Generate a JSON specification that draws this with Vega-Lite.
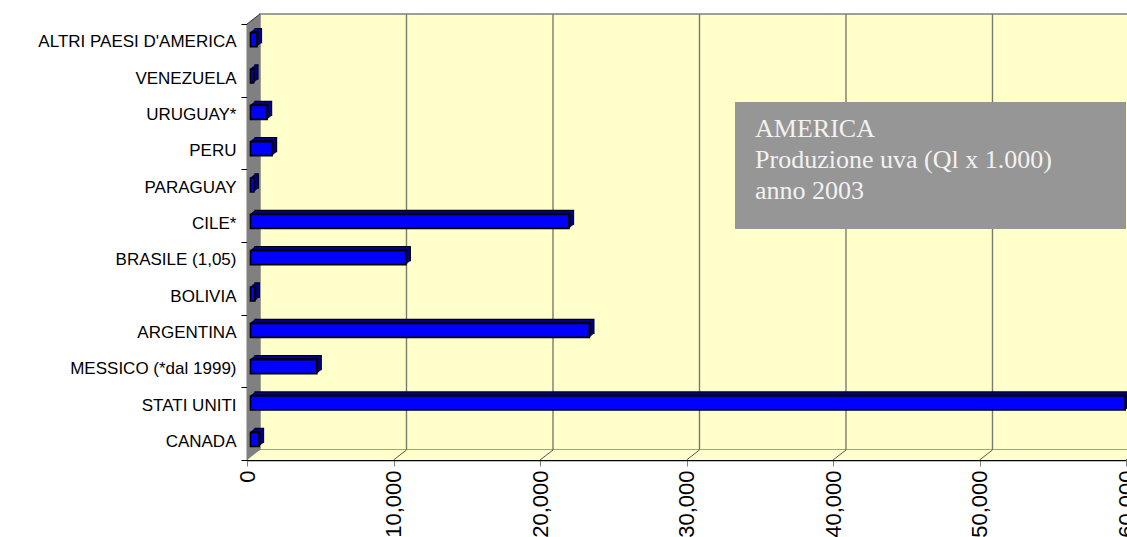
{
"$schema":"https://vega.github.io/schema/vega-lite/v6.json",
"width":879,"height":436,
"autosize":{"type":"none"},
"padding":{"left":247,"top":24,"right":1,"bottom":77},
"background":"#ffffff",
"config":{"view":{"stroke":null},"font":"Liberation Sans"},
"datasets":{
"paesi":[
{"paese":"ALTRI PAESI D'AMERICA","valore":440},
{"paese":"VENEZUELA","valore":200},
{"paese":"URUGUAY*","valore":1130},
{"paese":"PERU","valore":1470},
{"paese":"PARAGUAY","valore":225},
{"paese":"CILE*","valore":21740},
{"paese":"BRASILE (1,05)","valore":10600},
{"paese":"BOLIVIA","valore":295},
{"paese":"ARGENTINA","valore":23130},
{"paese":"MESSICO (*dal 1999)","valore":4520},
{"paese":"STATI UNITI","valore":59700},
{"paese":"CANADA","valore":580}
],
"griglia":[{"v":10000,"w":10887},{"v":20000,"w":20887},{"v":30000,"w":30887},{"v":40000,"w":40887},{"v":50000,"w":50887},{"v":60000,"w":60887}]
},
"layer":[
{"layer":[
{"data":{"values":[{"a":887,"b":61000,"c":10,"d":446}]},"mark":{"type":"rect","fill":"#FFFFCC","stroke":"#808080","strokeWidth":1.5},
 "encoding":{"x":{"field":"a","type":"quantitative","scale":{"domain":[0,60000],"nice":false},"axis":{"values":[0,10000,20000,30000,40000,50000,60000],"format":",d","labelAngle":-90,"labelFontSize":22,"labelColor":"#000000","labelPadding":4,"tickSize":6,"tickColor":"#808080","domainColor":"#000000","domainWidth":1.5,"grid":false,"title":null,"labelOverlap":false,"labelFlush":false,"labelBound":false}},"x2":{"field":"b"},
 "y":{"field":"c","type":"quantitative","scale":{"domain":[0,436],"nice":false},"axis":{"values":[0,36.33,72.67,109,145.33,181.67,218,254.33,290.67,327,363.33,399.67,436],"labels":false,"grid":false,"title":null,"tickSize":6,"tickColor":"#000000","domainColor":"#000000","domainWidth":1.5,"orient":"left"}},"y2":{"field":"d"}}},
{"data":{"values":[{"a":0,"c":0,"d":0},{"a":887,"c":0,"d":10},{"a":61000,"c":0,"d":10}]},"mark":{"type":"area","fill":"#FFFFCC"},
 "encoding":{"x":{"field":"a","type":"quantitative"},"y":{"field":"c","type":"quantitative"},"y2":{"field":"d"}}},
{"data":{"values":[{"a":0,"c":0,"d":436},{"a":887,"c":10,"d":446}]},"mark":{"type":"area","fill":"#808080"},
 "encoding":{"x":{"field":"a","type":"quantitative"},"y":{"field":"c","type":"quantitative"},"y2":{"field":"d"}}},
{"data":{"name":"griglia"},"mark":{"type":"rule","color":"#7b7b6b","strokeWidth":1.4},
 "encoding":{"x":{"field":"w","type":"quantitative"},"y":{"datum":10},"y2":{"datum":446}}},
{"data":{"name":"griglia"},"mark":{"type":"rule","color":"#555555","strokeWidth":1},
 "encoding":{"x":{"field":"v","type":"quantitative"},"x2":{"field":"w"},"y":{"datum":0},"y2":{"datum":10}}},
{"data":{"values":[{"a":0,"b":887,"c":436,"d":446}]},"mark":{"type":"rule","color":"#333333","strokeWidth":1},
 "encoding":{"x":{"field":"a","type":"quantitative"},"x2":{"field":"b"},"y":{"field":"c","type":"quantitative"},"y2":{"field":"d"}}}
]},
{"data":{"name":"paesi"},
 "encoding":{
  "y":{"field":"paese","type":"nominal","sort":null,"scale":{"paddingInner":0.615,"paddingOuter":0.3075},"axis":{"orient":"left","domain":false,"ticks":false,"labelFontSize":17,"labelColor":"#000000","labelPadding":11,"title":null,"labelLimit":300}},
  "x":{"field":"valore","type":"quantitative"},
  "x2":{"datum":0}
 },
 "layer":[
 {"mark":{"type":"rect","fill":"#000090","stroke":"#000000","strokeWidth":1.3,"xOffset":8,"x2Offset":8,"yOffset":-6.5,"y2Offset":-6.5}},
 {"mark":{"type":"rect","fill":"#000090","stroke":"#000090","strokeWidth":1,"xOffset":6.8,"x2Offset":6.8,"yOffset":-5.5,"y2Offset":-5.5}},
 {"mark":{"type":"rect","fill":"#000090","stroke":"#000090","strokeWidth":1,"xOffset":5.6,"x2Offset":5.6,"yOffset":-4.5,"y2Offset":-4.5}},
 {"mark":{"type":"rect","fill":"#000090","stroke":"#000000","strokeWidth":1,"xOffset":4.5,"x2Offset":4.5,"yOffset":-3.5,"y2Offset":-3.5}},
 {"mark":{"type":"rect","fill":"#0000FF","stroke":"#000000","strokeWidth":1.7,"xOffset":3.5,"x2Offset":3.5,"yOffset":-2.5,"y2Offset":-2.5}}
 ]
},
{"layer":[
{"data":{"values":[{"a":33310,"b":60000,"c":231,"d":358}]},"mark":{"type":"rect","fill":"#969696"},
 "encoding":{"x":{"field":"a","type":"quantitative"},"x2":{"field":"b"},"y":{"field":"c","type":"quantitative","scale":{"domain":[0,436],"nice":false},"axis":null},"y2":{"field":"d"}}},
{"data":{"values":[{"a":34680,"c":323,"t":"AMERICA"},{"a":34680,"c":292,"t":"Produzione uva (Ql x 1.000)"},{"a":34680,"c":261,"t":"anno 2003"}]},
 "mark":{"type":"text","align":"left","baseline":"alphabetic","font":"Liberation Serif","fontSize":26,"color":"#f2f2f2"},
 "encoding":{"x":{"field":"a","type":"quantitative"},"y":{"field":"c","type":"quantitative"},"text":{"field":"t"}}}
]}
],
"resolve":{"scale":{"y":"independent"},"axis":{"y":"independent"}}
}
